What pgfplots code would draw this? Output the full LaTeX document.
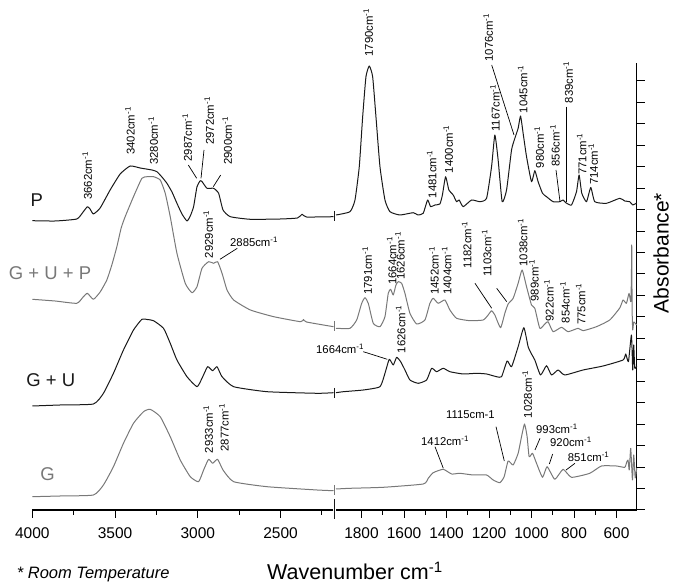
\documentclass[border=0pt]{standalone}
\usepackage{fontspec}
\setmainfont{Liberation Sans}
\usepackage{graphicx}
\usepackage{pgfplots}
\pgfplotsset{compat=1.18}
\definecolor{sgrey}{RGB}{120,120,120}
\definecolor{sblack}{RGB}{25,25,25}
\newcommand\af{\fontsize{11.3}{12}\selectfont}
\newcommand\slf{\fontsize{18.5}{18}\selectfont}
\newcommand\cm{cm\textsuperscript{-1}}
\newcommand\rl[3]{\node[rotate=90,anchor=west,inner sep=0pt,font=\af] at (#1,#2) {#3\cm};}
\newcommand\hl[3]{\node[anchor=west,inner sep=0pt,font=\af] at (#1,#2) {#3\cm};}
\newcommand\ld[4]{\draw[line width=0.7pt] (#1,#2) -- (#3,#4);}
\pgfplotsset{
  brk/.style={
    scale only axis, height=447.3pt, ymin=0, ymax=447.3, x dir=reverse,
    clip=false, axis x line*=bottom,
    axis line style={-, line width=1.3pt, black},
    tick align=outside, major tick length=8pt, minor tick length=5pt,
    tick style={black, line width=1pt},
    xticklabel style={font=\fontsize{15.5}{15}\selectfont, yshift=-6pt},
    /pgf/number format/assume math mode=true,
    /pgf/number format/1000 sep={},
    anchor=south west,
  },
  sp/.style={line width=1pt, line join=round, smooth, tension=0.3},
}
\begin{document}
\begin{tikzpicture}
\path[use as bounding box] (0,0) rectangle (674pt,583pt);
% ---------------- left part 4000 - 2180 ----------------
\begin{axis}[brk, at={(32.3pt,73pt)}, width=301.2pt, xmin=2180, xmax=4000,
  xtick={2500,3000,3500,4000}, minor xtick={2250,2750,3250,3750},
  axis y line=none]
% P
\addplot[sp, sblack] coordinates {(4000,289.3)(3862.6,289)(3731.2,291)(3693,298)(3667,303.3)(3651,301)(3630.8,296)(3590,302)(3529.7,320)(3469,336)(3408.6,344)(3348,342)(3277,340)(3247,338.3)(3216.7,333)(3186.5,326.7)(3156,318)(3126,306.7)(3095.7,296)(3065.4,289)(3045.4,294)(3025.4,303.3)(3004.8,323.3)(2984.9,329.3)(2972.7,328)(2944.3,321.7)(2904.4,321.7)(2874.1,316.7)(2847.5,300)(2803.3,293.3)(2682.2,290.7)(2500.6,291)(2397.7,292)(2369.3,295.7)(2343.2,293)(2180,293.3)};
% G + U + P
\addplot[sp, sgrey] coordinates {(4000,210.7)(3862.6,209)(3731.2,206.7)(3693,213)(3667,216.7)(3630.8,210.7)(3590,218)(3549.6,230)(3519.4,245)(3489,263.3)(3463,282)(3438.9,293.3)(3388.6,313.3)(3337.8,331.7)(3305.8,333.3)(3267.6,333.3)(3227,330)(3196.7,316.7)(3166.5,293.3)(3126,256.7)(3075.7,226.7)(3035,217.3)(3004.8,223.3)(2974.6,241.7)(2934.6,248.3)(2904.4,246.7)(2880.2,248.3)(2853.5,236.7)(2823.3,220)(2783.3,210)(2682.2,200)(2541.2,193.3)(2379.6,188.3)(2361.4,190.5)(2343.2,188)(2180,183.3)};
% G + U
\addplot[sp, sblack] coordinates {(4000,104)(3832.3,105)(3630.8,106)(3570.2,116.7)(3509.7,136.7)(3449.2,160)(3388.6,180)(3337.8,190.7)(3305.8,190.5)(3267.6,189.3)(3207,181.7)(3166.5,166.7)(3126,150)(3065.4,133.3)(3004.8,123.3)(2974.6,131.7)(2940.7,143.3)(2910.4,139.3)(2883.8,143.3)(2853.5,133.3)(2783.3,123.3)(2581.1,118.3)(2278.5,116.7)(2180,117.3)};
% G
\addplot[sp, sgrey] coordinates {(4000,13.3)(3832.3,14)(3630.8,15)(3570.2,25)(3509.7,43.3)(3449.2,66.7)(3388.6,86.7)(3328,98.3)(3287.5,100.7)(3227,93.3)(3166.5,73.3)(3106,50)(3045.4,33.3)(2995.2,28.3)(2964.9,40)(2934.6,50.7)(2910.4,46.7)(2880.2,50.7)(2847.5,40)(2783.3,28.3)(2581.1,23.3)(2278.5,20)(2180,19.3)};
\end{axis}
% ---------------- right part 1920 - 505 ----------------
\begin{axis}[brk, at={(336pt,73pt)}, width=300.7pt, xmin=505, xmax=1920,
  xtick={600,800,...,1800}, minor xtick={700,900,...,1700},
  axis y line*=right, ytick={0,21.46,...,430}, yticklabels={}]
% P
\addplot[sp, sblack] coordinates {(1920,295)(1854.2,298.3)(1830.7,310)(1810.5,343.3)(1794.5,393.3)(1779,433.3)(1763.4,444)(1747.5,433.3)(1732,393.3)(1713.1,343.3)(1689.6,310)(1666.1,298.3)(1619,295)(1556.6,297.3)(1534.5,295)(1509.6,296.7)(1488.9,310)(1474.8,303.3)(1454.6,305)(1431.1,306)(1419.3,315)(1404.3,333.3)(1388.8,320)(1368.6,315)(1352.6,308.3)(1340.4,310)(1321.5,303.3)(1282,310)(1243,308.3)(1211.5,311.7)(1188,343.3)(1172.5,375)(1157,350)(1138.1,308.3)(1117.4,320)(1094,360)(1078.4,371.7)(1062.9,381.7)(1051.6,394)(1039.4,376.7)(1023.4,353.3)(1000,328.3)(984.4,339.3)(968.9,328.3)(948.2,316.7)(929.4,313.3)(898.4,308.3)(866.9,308.3)(851.4,310)(838.7,307.3)(811.9,305)(788.3,318.3)(776.1,335)(763.4,316.7)(741.3,308.3)(721.1,322.5)(702.3,308.3)(647.3,306.7)(584.8,311.7)(561.3,309)(537.8,308.3)(523.7,305)(505,307)};
% G + U + P
\addplot[sp, sgrey] coordinates {(1920,181.7)(1854.2,181.7)(1822.7,190)(1799.2,206.7)(1783.7,212.3)(1768.1,206.7)(1744.6,186.7)(1713.1,183.3)(1689.6,193.3)(1674.1,216.7)(1662.8,220.7)(1650.6,215)(1637.9,225)(1627.1,228.3)(1611.1,226.7)(1595.6,216.7)(1572.1,196.7)(1540.6,186)(1501.6,190)(1478.1,206.7)(1462.6,211.7)(1439,206.7)(1407.5,210)(1384,200)(1352.6,191.7)(1290,189.3)(1227.5,190)(1204,195)(1188,199.3)(1172.5,195)(1145.7,182.3)(1125.5,196.7)(1110,206)(1086.4,211.7)(1062.9,226.7)(1044.1,240)(1023.4,223.3)(1000,205)(984.4,201.7)(961,181.7)(937.4,186)(921.9,188.3)(898.4,178.3)(858.9,182.7)(827.9,178.3)(780.8,181.7)(757.3,179.3)(694.3,183.3)(631.8,190)(584.8,202)(569.3,210)(553.3,206.7)(541.1,216.7)(533.1,208.3)(530,230)(528.4,265)(526.5,200)(523.7,180)(519,188)(505,185)};
% G + U
\addplot[sp, sblack] coordinates {(1920,117.3)(1885.7,118.3)(1791.6,120)(1713.1,123.3)(1689.6,136.7)(1669.4,150.7)(1650.6,145)(1634.6,152.7)(1615.8,148.3)(1595.6,140)(1572.1,130)(1533,126.7)(1493.6,130)(1470,141.7)(1446.6,138.3)(1415.5,141.7)(1384,138.3)(1321.5,136)(1258.5,136.7)(1211.5,136)(1164.5,133.3)(1140.9,133.3)(1114.6,149)(1093.9,143.3)(1062.9,163.3)(1036.1,182.3)(1015.9,163.3)(1000,156)(984.4,150)(957.6,135)(929.4,144.3)(905.9,135)(874.9,140)(843.4,135)(757.3,140)(663.3,144)(569.3,150)(556.6,156)(543.9,148.3)(529.8,175)(523.7,140)(519,165)(514.3,142)(505,144)};
% G
\addplot[sp, sgrey] coordinates {(1920,21)(1854.2,21.7)(1697.6,22.7)(1509.6,26)(1486.1,31.7)(1462.6,37.3)(1415.5,40.7)(1376,36)(1337,36.7)(1274.5,35)(1211.5,35)(1180.4,30)(1149,27.3)(1128.7,33.3)(1110,49)(1086.4,45)(1062.9,56.7)(1047,73.3)(1032.8,86)(1020.6,73.3)(1011.2,53.3)(995.2,56.7)(976.4,46.7)(948.2,32.7)(926.6,43.3)(890.4,30.7)(851.4,40.7)(811.9,32.7)(725.9,36.7)(670.9,44)(600.4,44)(561.3,42.7)(551.9,48)(545.8,50)(540.1,40)(533.1,61.7)(525.1,30)(519,55)(512,32)(505,42)};
\end{axis}
% ---------------- annotations (pixel coordinates) ----------------
\begin{scope}[shift={(0pt,583pt)}, x=1pt, y=-1pt]
% break marks
\draw[sblack, line width=1.4pt] (334.5,499) -- (334.5,519);
\draw[sblack, line width=1.3pt] (334.5,211) -- (334.5,221);
\draw[sgrey, line width=1.3pt] (334.5,321) -- (334.5,331);
\draw[sblack, line width=1.3pt] (334.5,388) -- (334.5,398);
\draw[sgrey, line width=1.3pt] (334.5,485) -- (334.5,495);
% P labels
\rl{87.3}{200}{3662}
\rl{130}{155}{3402}
\rl{153.3}{165}{3280}
\rl{187.3}{161.7}{2987}\ld{188.3}{165}{196.7}{178.3}
\rl{209.3}{145}{2972}\ld{204}{150}{201}{178.3}
\rl{227.3}{165}{2900}\ld{220.7}{175}{213.3}{186.7}
\rl{368.3}{56.7}{1790}
\rl{431.7}{198.3}{1481}
\rl{448.3}{173.3}{1400}
\rl{495}{131.7}{1167}
\rl{488.3}{61.7}{1076}\ld{491.7}{65}{514}{135}
\rl{522.7}{113.3}{1045}
\rl{539.3}{168.3}{980}
\rl{555}{166.7}{856}\ld{556}{170}{560}{201.7}
\rl{568.3}{103.3}{839}\ld{566}{106.7}{566}{201.7}
\rl{581.7}{175}{771}
\rl{593.3}{185}{714}
% G+U+P labels
\rl{208.3}{258.3}{2929}
\hl{230}{241.7}{2885}\ld{220}{259.3}{237.3}{248.3}
\rl{367.3}{295}{1791}
\rl{391.7}{285}{1664}
\rl{400}{280}{1626}
\rl{434}{295}{1452}
\rl{446.7}{295}{1404}
\rl{466.7}{268.3}{1182}\ld{475}{283.3}{491.7}{308.3}
\rl{486.7}{276.7}{1103}\ld{496.7}{288.3}{506.7}{301.7}
\rl{522.7}{266.7}{1038}
\rl{534}{301.7}{989}
\rl{549}{321.7}{922}
\rl{565}{323.3}{854}
\rl{580.7}{325}{775}
% G+U labels
\hl{316}{348.5}{1664}\ld{363.3}{351.7}{387.3}{359.3}
\rl{400.7}{353.3}{1626}
% G labels
\rl{208.3}{453.3}{2933}
\rl{224}{451.7}{2877}
\hl{421}{441}{1412}\ld{435}{446.7}{443.3}{468.3}
\node[anchor=west,inner sep=0pt,font=\af] at (446,415) {1115cm-1};\ld{496}{426.7}{504.3}{461}
\rl{527.3}{418.3}{1028}
\hl{536}{429.3}{993}\ld{540}{438.3}{535}{450}
\hl{550}{441.7}{920}\ld{552.7}{454}{549.3}{464}
\hl{567.7}{456.7}{851}\ld{575}{463.3}{566}{470}
% series names
\node[font=\slf, text=sblack] at (36.7,200) {P};
\node[font=\slf, text=sgrey] at (50,273.5) {G + U + P};
\node[font=\slf, text=sblack] at (50.8,380) {G + U};
\node[font=\slf, text=sgrey] at (47.5,474) {G};
% axis titles
\node[rotate=90, inner sep=0pt, font=\fontsize{21}{22}\selectfont] at (661,253) {Absorbance*};
\node[anchor=base west, inner sep=0pt, font=\fontsize{21.5}{22}\selectfont] at (267,580) {Wavenumber cm\textsuperscript{-1}};
\node[anchor=base west, inner sep=0pt, font=\fontsize{16.5}{17}\selectfont\itshape] at (16.7,579) {* Room Temperature};
\end{scope}
\end{tikzpicture}
\end{document}
